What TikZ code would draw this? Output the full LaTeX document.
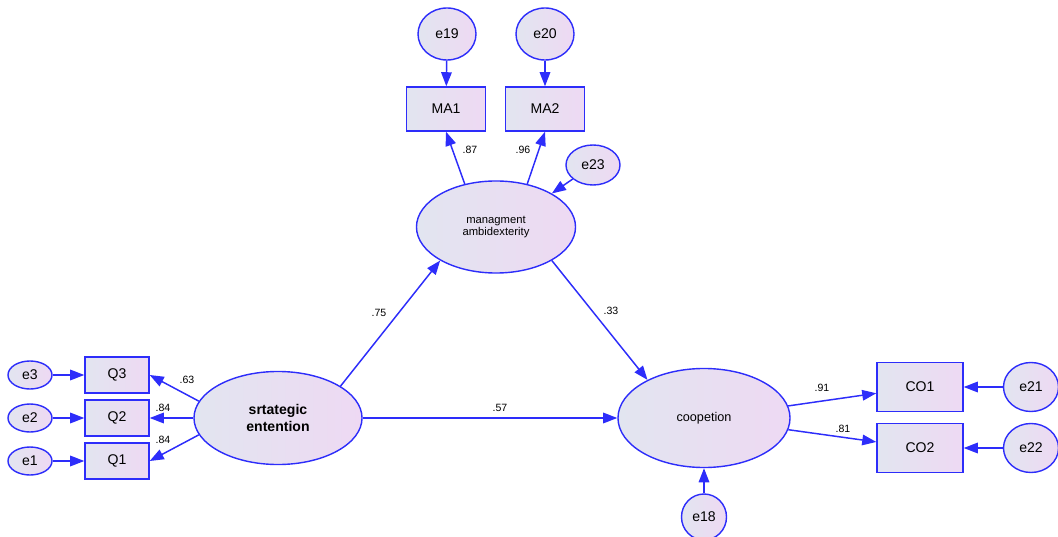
\documentclass[tikz,border=0pt]{standalone}
\usepackage{fontspec}
\setmainfont{Liberation Sans}
\usetikzlibrary{arrows.meta,shapes.geometric}

\definecolor{amosblue}{RGB}{45,45,250}
\definecolor{shadeA}{RGB}{226,229,240}
\definecolor{shadeB}{RGB}{238,217,243}

\tikzset{
  latent/.style={ellipse,draw=amosblue,line width=1pt,left color=shadeA,right color=shadeB,inner sep=0pt},
  errvar/.style={latent,font=\fontsize{10}{12}\selectfont},
  obsbox/.style={rectangle,draw=amosblue,line width=1pt,left color=shadeA,right color=shadeB,inner sep=0pt,font=\fontsize{10}{12}\selectfont},
  regpath/.style={draw=amosblue,line width=1.05pt,-{Triangle[length=10pt,width=7.5pt]}},
  coef/.style={font=\fontsize{7.5}{8}\selectfont},
}

\begin{document}
\begin{tikzpicture}[x=0.025cm,y=-0.025cm]
  \useasboundingbox (0,0) rectangle (1058,537);

  % latent variables
  \node[latent,minimum width=3.975cm,minimum height=2.3cm,align=center,font=\fontsize{8}{8.5}\selectfont] (ma) at (496,227) {managment\\ambidexterity};
  \node[latent,minimum width=4.2cm,minimum height=2.325cm,align=center,font=\bfseries\fontsize{10}{12.5}\selectfont] (strat) at (278,418) {srtategic\\entention};
  \node[latent,minimum width=4.3cm,minimum height=2.475cm,font=\fontsize{9}{11}\selectfont] (coop) at (704,418) {coopetion};

  % observed variables
  \node[obsbox,minimum width=1.975cm,minimum height=1.1cm] (ma1) at (446,109) {MA1};
  \node[obsbox,minimum width=1.975cm,minimum height=1.1cm] (ma2) at (545,109) {MA2};
  \node[obsbox,minimum width=1.6cm,minimum height=0.9cm] (q3) at (117,375) {Q3};
  \node[obsbox,minimum width=1.6cm,minimum height=0.9cm] (q2) at (117,418) {Q2};
  \node[obsbox,minimum width=1.6cm,minimum height=0.9cm] (q1) at (117,461) {Q1};
  \node[obsbox,minimum width=2.15cm,minimum height=1.225cm] (co1) at (920,387) {CO1};
  \node[obsbox,minimum width=2.15cm,minimum height=1.225cm] (co2) at (920,448) {CO2};

  % error terms
  \node[errvar,minimum width=1.45cm,minimum height=1.3cm] (e19) at (447,34) {e19};
  \node[errvar,minimum width=1.45cm,minimum height=1.3cm] (e20) at (545,34) {e20};
  \node[errvar,minimum width=1.35cm,minimum height=1.0cm] (e23) at (593,165) {e23};
  \node[errvar,minimum width=1.1cm,minimum height=0.7cm] (e3) at (30,375) {e3};
  \node[errvar,minimum width=1.1cm,minimum height=0.7cm] (e2) at (30,418) {e2};
  \node[errvar,minimum width=1.1cm,minimum height=0.7cm] (e1) at (30,461) {e1};
  \node[errvar,minimum width=1.375cm,minimum height=1.225cm] (e21) at (1031,387) {e21};
  \node[errvar,minimum width=1.375cm,minimum height=1.225cm] (e22) at (1031,448) {e22};
  \node[errvar,minimum width=1.125cm,minimum height=1.15cm] (e18) at (704,517) {e18};

  % errors to indicators
  \draw[regpath] (e19) -- (ma1);
  \draw[regpath] (e20) -- (ma2);
  \draw[regpath] (e3) -- (q3);
  \draw[regpath] (e2) -- (q2);
  \draw[regpath] (e1) -- (q1);
  \draw[regpath] (e21) -- (co1);
  \draw[regpath] (e22) -- (co2);
  \draw[regpath] (e23) -- (ma.31);
  \draw[regpath] (e18) -- (coop);

  % loadings
  \draw[regpath] (ma.126) -- (ma1.south);
  \draw[regpath] (ma.54) -- (ma2.south);
  \draw[regpath] (strat.168) -- (q3.east);
  \draw[regpath] (strat) -- (q2);
  \draw[regpath] (strat.192) -- (q1.east);
  \draw[regpath] (coop) -- (co1);
  \draw[regpath] (coop) -- (co2);

  % structural paths
  \draw[regpath] (strat.27) -- (ma.-149);
  \draw[regpath] (ma.-31) -- (coop.146);
  \draw[regpath] (strat) -- (coop);

  % coefficients
  \node[coef] (c87) at (470,150) {.87};
  \node[coef] (c96) at (523,150) {.96};
  \node[coef] (c75) at (379,313) {.75};
  \node[coef] (c33) at (611,311) {.33};
  \node[coef] (c57) at (500,408) {.57};
  \node[coef] (c63) at (187,380) {.63};
  \node[coef] (c84a) at (163,408) {.84};
  \node[coef] (c84b) at (163,440) {.84};
  \node[coef] (c91) at (822,388) {.91};
  \node[coef] (c81) at (843,429) {.81};
\end{tikzpicture}
\end{document}
